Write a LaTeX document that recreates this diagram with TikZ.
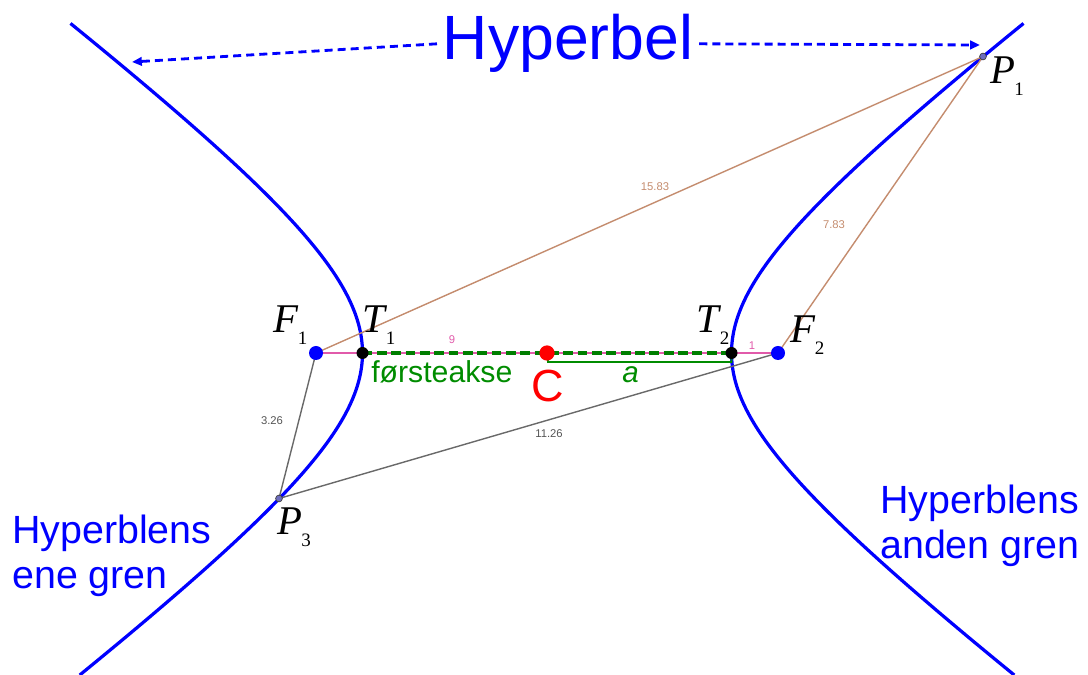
\documentclass[tikz,border=0pt]{standalone}
\usepackage{fontspec}
\setmainfont{Liberation Serif}
\newfontfamily\arialf{Liberation Sans}
\usetikzlibrary{arrows.meta}
\definecolor{gblue}{RGB}{0,0,255}
\definecolor{gbrown}{RGB}{196,140,110}
\definecolor{ggray}{RGB}{105,105,105}
\definecolor{gpink}{RGB}{225,90,170}
\definecolor{ggreen}{RGB}{0,140,0}
\definecolor{gred}{RGB}{255,0,0}
\definecolor{ptfill}{RGB}{110,110,190}
\newcommand{\ptlab}[3]{{\fontsize{29}{29}\selectfont\textit{#1}}\kern#3\raisebox{-8.5pt}{\fontsize{13.5}{14}\selectfont #2}}
\begin{document}
\begin{tikzpicture}[x=0.025cm,y=-0.025cm,
  curve/.style={gblue,line width=2.3pt},
  brownline/.style={gbrown,line width=1pt},
  grayline/.style={ggray,line width=1pt},
  pinkline/.style={gpink,line width=1pt},
  axisline/.style={ggreen!90!black,line width=2.8pt,dash pattern=on 7pt off 3.2pt},
  aline/.style={ggreen,line width=1.3pt},
  darrow/.style={gblue,line width=2pt,dash pattern=on 5.7pt off 3.6pt,-{Triangle[length=7pt,width=6pt]}},
  fpt/.style={circle,fill=gblue,inner sep=0,minimum size=0.35cm},
  tpt/.style={circle,fill=black,inner sep=0,minimum size=0.3cm},
  cpt/.style={circle,fill=gred,inner sep=0,minimum size=0.38cm},
  ppt/.style={circle,fill=ptfill,draw=darkgray,line width=0.5pt,inner sep=0,minimum size=0.17cm},
  plab/.style={anchor=base west,inner sep=0,text=black},
  num/.style={inner sep=0,font=\arialf\fontsize{8}{9}\selectfont},
  bluetext/.style={text=gblue,font=\arialf\fontsize{28}{32}\selectfont,align=left,anchor=north west,inner sep=0}
]
\useasboundingbox (0,0) rectangle (1088,675);
% key points
\coordinate (C) at (547,353);
\coordinate (F1) at (316,353);
\coordinate (F2) at (778,353);
\coordinate (T1) at (362.5,353);
\coordinate (T2) at (731.5,353);
\coordinate (P1) at (983,56.5);
\coordinate (P3) at (279,498.5);
\coordinate (Ca) at (548,362);
\coordinate (Ta) at (731.5,362);
% hyperbola branches
\draw[curve] plot[domain=-1.581:1.603,samples=90,smooth,variable=\t] ({547+184.5*cosh(\t)},{353-138.4*sinh(\t)});
\draw[curve] plot[domain=-1.581:1.603,samples=90,smooth,variable=\t] ({547-184.5*cosh(\t)},{353-138.4*sinh(\t)});
% focal distances
\draw[brownline] (F1) -- (P1);
\draw[brownline] (F2) -- (P1);
\draw[grayline] (F1) -- (P3);
\draw[grayline] (F2) -- (P3);
\draw[pinkline] (F1) -- (T2) -- (F2);
\draw[axisline] (T1) -- (T2);
\draw[aline] (C) -- (Ca) -- (Ta) -- (T2);
% title and arrows
\node[text=gblue,font=\arialf\fontsize{44.5}{46}\selectfont,anchor=base west,inner xsep=4pt,inner ysep=0] (title) at (437,60) {Hyperbel};
\coordinate (LA) at (132,62);
\coordinate (RA) at (980,45);
\draw[darrow] (title.west) -- (LA);
\draw[darrow] (title.east) -- (RA);
% points
\node[fpt] (F1p) at (F1) {};
\node[fpt] (F2p) at (F2) {};
\node[tpt] (T1p) at (T1) {};
\node[tpt] (T2p) at (T2) {};
\node[cpt] (Cp) at (C) {};
\node[ppt] (P1p) at (P1) {};
\node[ppt] (P3p) at (P3) {};
% point labels
\node[plab] (F1l) at (273,333) {\ptlab{F}{1}{-0.5pt}};
\node[plab] (T1l) at (362,333) {\ptlab{T}{1}{-1pt}};
\node[plab] (T2l) at (696,333) {\ptlab{T}{2}{-1pt}};
\node[plab] (F2l) at (790,343) {\ptlab{F}{2}{-0.5pt}};
\node[plab] (P1l) at (990,84) {\ptlab{P}{1}{-0.5pt}};
\node[plab] (P3l) at (277,535) {\ptlab{P}{3}{-0.5pt}};
% numbers
\node[num,text=gbrown] (n1) at (655,187) {15.83};
\node[num,text=gbrown] (n2) at (834,225) {7.83};
\node[num,text=ggray!80!black] (n3) at (272,421) {3.26};
\node[num,text=ggray!80!black] (n4) at (549,434) {11.26};
\node[num,text=gpink] (n5) at (452,340) {9};
\node[num,text=gpink] (n6) at (752,346) {1};
% text
\node[anchor=base west,inner sep=0,text=ggreen,font=\arialf\fontsize{21.5}{24}\selectfont] (akse) at (371,383) {førsteakse};
\node[anchor=base west,inner sep=0,text=ggreen,font=\arialf\itshape\fontsize{21}{24}\selectfont] (alab) at (622,383) {a};
\node[anchor=base,inner sep=0,text=gred,font=\arialf\fontsize{32}{34}\selectfont] (Clab) at (548,402) {C};
\node[bluetext] (left) at (12,514.5) {Hyperblens\\ene gren};
\node[bluetext] (right) at (880,484.5) {Hyperblens\\anden gren};
\end{tikzpicture}
\end{document}
